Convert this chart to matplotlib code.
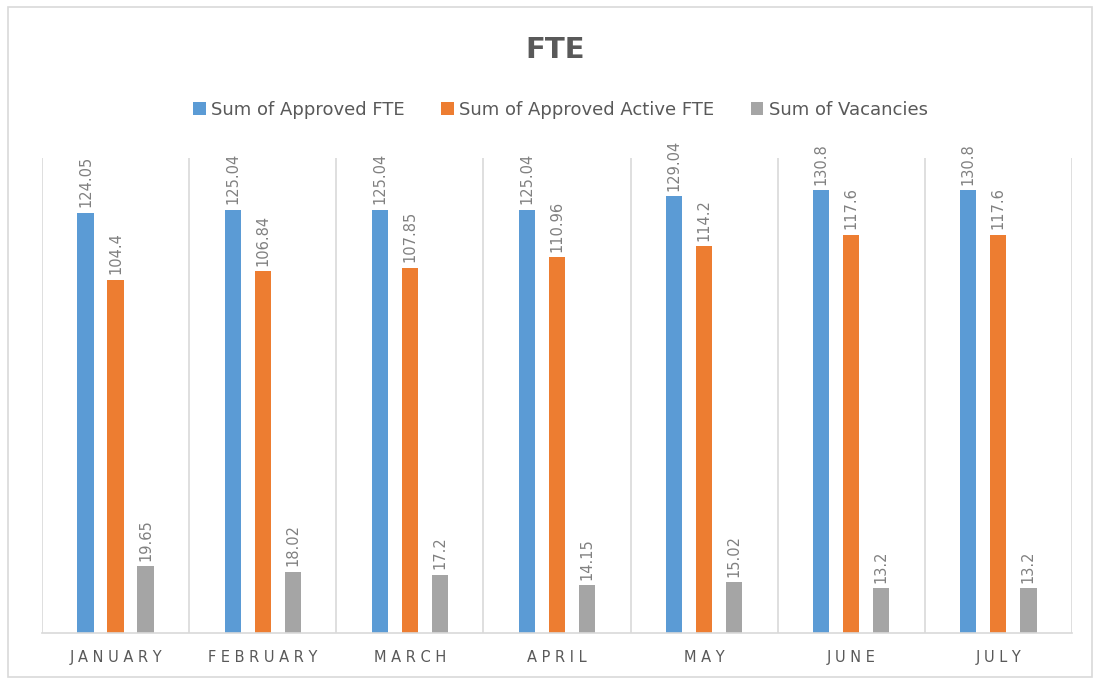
import numpy as np
import matplotlib
matplotlib.use("Agg")
import matplotlib.pyplot as plt
from matplotlib.patches import Rectangle

# monthly FTE figures
months = ["JANUARY", "FEBRUARY", "MARCH", "APRIL", "MAY", "JUNE", "JULY"]
approved = [124.05, 125.04, 125.04, 125.04, 129.04, 130.8, 130.8]
approved_active = [104.4, 106.84, 107.85, 110.96, 114.2, 117.6, 117.6]
vacancies = [19.65, 18.02, 17.2, 14.15, 15.02, 13.2, 13.2]

series = [
	("Sum of Approved FTE", approved, "#5B9BD5"),
	("Sum of Approved Active FTE", approved_active, "#ED7D31"),
	("Sum of Vacancies", vacancies, "#A5A5A5"),
]

fig = plt.figure(figsize=(10.99, 6.83), dpi=100)
ax = fig.add_axes([0.0382, 0.0732, 0.9372, 0.6955])

x = np.arange(len(months))
offsets = [-0.204, 0.0, 0.204]
width = 0.11

for (name, vals, col), off in zip(series, offsets):
	bars = ax.bar(x + off, vals, width, color=col, label=name)
	for b, v in zip(bars, vals):
		ax.annotate("%g" % v, (b.get_x() + b.get_width()/2., b.get_height()),
			xytext=(0, 4), textcoords="offset points", rotation=90,
			ha="center", va="bottom", fontsize=10.5, color="#808080")

ax.set_xlim(-0.5, len(months) - 0.5)
ax.set_ylim(0, 140.3)
ax.set_yticks([])
ax.set_xticks(x)
ax.set_xticklabels([" ".join(m) for m in months], fontsize=10.5, color="#595959")
ax.tick_params(axis="x", length=0, pad=12)

# category separators
for b in np.arange(-0.5, len(months), 1.0):
	ax.axvline(b, color="#D9D9D9", lw=1.2, zorder=0)
for s in ["top", "left", "right"]:
	ax.spines[s].set_visible(False)
ax.spines["bottom"].set_color("#D9D9D9")
ax.spines["bottom"].set_linewidth(1.2)

fig.text(0.505, 0.927, "FTE", ha="center", va="center", fontsize=21,
	fontweight="bold", color="#595959")

fig.legend(loc="center", bbox_to_anchor=(0.51, 0.839), ncol=3, frameon=False,
	fontsize=13, handlelength=0.7, handleheight=0.7, handletextpad=0.3,
	columnspacing=2.0, labelcolor="#595959")

# outer chart border
fig.patches.append(Rectangle((8/1099., 6/683.), 1084/1099., 670/683.,
	transform=fig.transFigure, fill=False, edgecolor="#D9D9D9", lw=1.2))

fig.savefig("out.png", dpi=100)
